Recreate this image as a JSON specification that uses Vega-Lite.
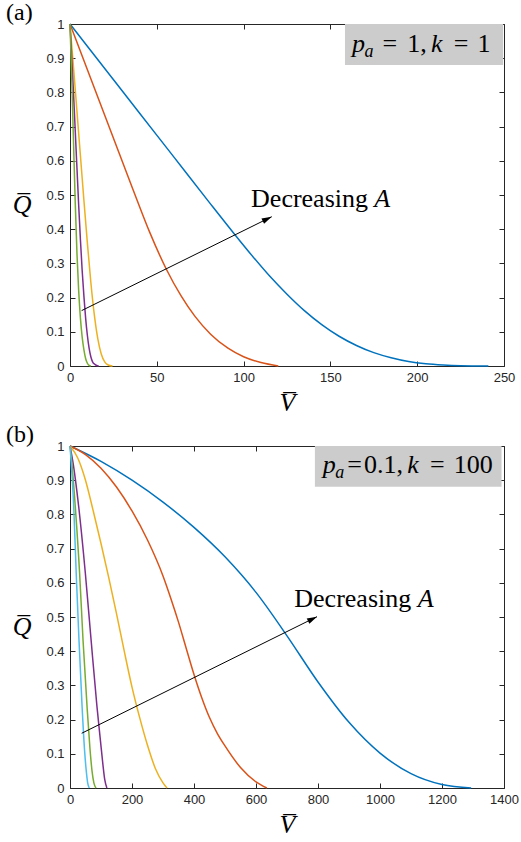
{
  "$schema": "https://vega.github.io/schema/vega-lite/v6.json",
  "padding": {"left": 5, "top": 0, "right": 5, "bottom": 5},
  "background": "white",
  "spacing": 6,
  "config": {
    "view": {"stroke": "#262626", "strokeWidth": 1},
    "axis": {"grid": false, "domain": false, "tickColor": "#262626", "tickSize": -5, "labelColor": "#262626", "labelFont": "Liberation Sans", "labelFontSize": 13, "labelFlush": false, "labelOverlap": false, "labelBound": false, "titleFont": "Liberation Serif", "titleFontStyle": "italic", "titleFontWeight": "normal", "titleFontSize": 26, "titleColor": "black"},
    "title": {"font": "Liberation Serif", "fontSize": 24, "fontWeight": "normal", "anchor": "start", "frame": "group", "dx": -64, "offset": -7, "baseline": "alphabetic", "color": "black"}
  },
  "datasets": {
    "a": [
      {"s":"1","v":0,"q":1},{"s":"1","v":20,"q":0.87},{"s":"1","v":40,"q":0.74},{"s":"1","v":60,"q":0.61},{"s":"1","v":80,"q":0.48},{"s":"1","v":95,"q":0.384},{"s":"1","v":105,"q":0.322},{"s":"1","v":115,"q":0.263},{"s":"1","v":125,"q":0.21},{"s":"1","v":135,"q":0.162},{"s":"1","v":145,"q":0.121},{"s":"1","v":155,"q":0.087},{"s":"1","v":165,"q":0.06},{"s":"1","v":175,"q":0.039},{"s":"1","v":185,"q":0.024},{"s":"1","v":195,"q":0.013},{"s":"1","v":205,"q":0.0065},{"s":"1","v":215,"q":0.003},{"s":"1","v":225,"q":0.001},{"s":"1","v":241,"q":0},
      {"s":"2","v":0,"q":1},{"s":"2","v":12,"q":0.84},{"s":"2","v":24,"q":0.68},{"s":"2","v":36,"q":0.52},{"s":"2","v":46,"q":0.39},{"s":"2","v":55.5,"q":0.283},{"s":"2","v":64,"q":0.205},{"s":"2","v":72,"q":0.145},{"s":"2","v":81,"q":0.093},{"s":"2","v":91,"q":0.052},{"s":"2","v":100,"q":0.027},{"s":"2","v":110,"q":0.01},{"s":"2","v":120,"q":0},
      {"s":"3","v":0,"q":1},{"s":"3","v":2,"q":0.875},{"s":"3","v":4,"q":0.745},{"s":"3","v":6,"q":0.615},{"s":"3","v":8,"q":0.485},{"s":"3","v":10,"q":0.36},{"s":"3","v":12,"q":0.245},{"s":"3","v":14,"q":0.15},{"s":"3","v":16,"q":0.08},{"s":"3","v":18,"q":0.035},{"s":"3","v":20,"q":0.012},{"s":"3","v":22,"q":0.003},{"s":"3","v":24.5,"q":0},
      {"s":"4","v":0,"q":1},{"s":"4","v":1,"q":0.9},{"s":"4","v":2,"q":0.8},{"s":"4","v":3,"q":0.69},{"s":"4","v":4,"q":0.58},{"s":"4","v":5,"q":0.47},{"s":"4","v":6,"q":0.37},{"s":"4","v":7,"q":0.28},{"s":"4","v":8,"q":0.205},{"s":"4","v":9,"q":0.14},{"s":"4","v":10,"q":0.09},{"s":"4","v":11,"q":0.052},{"s":"4","v":12,"q":0.027},{"s":"4","v":13,"q":0.012},{"s":"4","v":14.5,"q":0.004},{"s":"4","v":16.5,"q":0},
      {"s":"5","v":0,"q":1},{"s":"5","v":1,"q":0.84},{"s":"5","v":2,"q":0.66},{"s":"5","v":3,"q":0.48},{"s":"5","v":4,"q":0.33},{"s":"5","v":5,"q":0.22},{"s":"5","v":6,"q":0.14},{"s":"5","v":7,"q":0.085},{"s":"5","v":8,"q":0.048},{"s":"5","v":9,"q":0.022},{"s":"5","v":10,"q":0.008},{"s":"5","v":11,"q":0.002},{"s":"5","v":12,"q":0}
    ],
    "b": [
      {"s":"1","v":0,"q":1},{"s":"1","v":100,"q":0.955},{"s":"1","v":200,"q":0.9},{"s":"1","v":300,"q":0.836},{"s":"1","v":400,"q":0.762},{"s":"1","v":500,"q":0.676},{"s":"1","v":600,"q":0.572},{"s":"1","v":700,"q":0.445},{"s":"1","v":800,"q":0.31},{"s":"1","v":900,"q":0.192},{"s":"1","v":1000,"q":0.102},{"s":"1","v":1100,"q":0.042},{"s":"1","v":1200,"q":0.01},{"s":"1","v":1294,"q":0},
      {"s":"2","v":0,"q":1},{"s":"2","v":50,"q":0.975},{"s":"2","v":100,"q":0.935},{"s":"2","v":150,"q":0.88},{"s":"2","v":200,"q":0.81},{"s":"2","v":250,"q":0.725},{"s":"2","v":300,"q":0.62},{"s":"2","v":325,"q":0.555},{"s":"2","v":350,"q":0.485},{"s":"2","v":375,"q":0.408},{"s":"2","v":400,"q":0.332},{"s":"2","v":425,"q":0.264},{"s":"2","v":450,"q":0.206},{"s":"2","v":475,"q":0.16},{"s":"2","v":500,"q":0.123},{"s":"2","v":550,"q":0.06},{"s":"2","v":600,"q":0.018},{"s":"2","v":635,"q":0},
      {"s":"3","v":0,"q":1},{"s":"3","v":25,"q":0.965},{"s":"3","v":50,"q":0.9},{"s":"3","v":75,"q":0.81},{"s":"3","v":100,"q":0.715},{"s":"3","v":125,"q":0.615},{"s":"3","v":150,"q":0.51},{"s":"3","v":175,"q":0.4},{"s":"3","v":200,"q":0.295},{"s":"3","v":225,"q":0.205},{"s":"3","v":250,"q":0.125},{"s":"3","v":275,"q":0.058},{"s":"3","v":300,"q":0.015},{"s":"3","v":313,"q":0},
      {"s":"4","v":0,"q":1},{"s":"4","v":10,"q":0.95},{"s":"4","v":28,"q":0.823},{"s":"4","v":49.5,"q":0.628},{"s":"4","v":68,"q":0.433},{"s":"4","v":87,"q":0.238},{"s":"4","v":98,"q":0.14},{"s":"4","v":106,"q":0.07},{"s":"4","v":112,"q":0.025},{"s":"4","v":119,"q":0},
      {"s":"5","v":0,"q":1},{"s":"5","v":6,"q":0.95},{"s":"5","v":17,"q":0.823},{"s":"5","v":31,"q":0.628},{"s":"5","v":42,"q":0.433},{"s":"5","v":55,"q":0.238},{"s":"5","v":64,"q":0.12},{"s":"5","v":71,"q":0.05},{"s":"5","v":77,"q":0.015},{"s":"5","v":84,"q":0},
      {"s":"6","v":0,"q":1},{"s":"6","v":4,"q":0.95},{"s":"6","v":12,"q":0.823},{"s":"6","v":20,"q":0.628},{"s":"6","v":29,"q":0.433},{"s":"6","v":39,"q":0.238},{"s":"6","v":47,"q":0.11},{"s":"6","v":53,"q":0.045},{"s":"6","v":57,"q":0.015},{"s":"6","v":62,"q":0}
    ],
    "boxA": [{"x":158.4,"x2":249.5,"y":1,"y2":0.88}],
    "boxB": [{"x":790,"x2":1392,"y":1,"y2":0.881}],
    "arrowA": [{"x":6.7,"y":0.162,"x2":116.2,"y2":0.4365}],
    "arrowB": [{"x":37.7,"y":0.16,"x2":796.8,"y2":0.501}],
    "normA": [{"x":104.3,"y":0.466,"t":"Decreasing"},{"x":180.0,"y":0.919,"t":"="},{"x":194.3,"y":0.919,"t":"1,"},{"x":221.0,"y":0.919,"t":"="},{"x":234.7,"y":0.919,"t":"1"}],
    "italA": [{"x":175.3,"y":0.466,"t":"A"},{"x":162.4,"y":0.919,"t":"p"},{"x":207.9,"y":0.919,"t":"k"}],
    "subA": [{"x":169.7,"y":0.9035,"t":"a"}],
    "normB": [{"x":723.5,"y":0.53,"t":"Decreasing"},{"x":894.2,"y":0.92,"t":"="},{"x":948.4,"y":0.92,"t":"0.1,"},{"x":1161,"y":0.92,"t":"="},{"x":1237.7,"y":0.92,"t":"100"}],
    "italB": [{"x":1121.6,"y":0.53,"t":"A"},{"x":815.2,"y":0.92,"t":"p"},{"x":1087.7,"y":0.92,"t":"k"}],
    "subB": [{"x":855.8,"y":0.906,"t":"a"}]
  },
  "vconcat": [
    {
      "width": 434, "height": 342,
      "title": {"text": "(a)"},
      "resolve": {"axis": {"x": "independent", "y": "independent"}},
      "layer": [
        {"data": {"name": "boxA"}, "mark": {"type": "rect", "color": "#cccccc"},
         "encoding": {"x": {"field": "x", "type": "quantitative", "scale": {"domain": [0, 250], "nice": false}, "axis": null}, "x2": {"field": "x2"},
                      "y": {"field": "y", "type": "quantitative", "scale": {"domain": [0, 1], "nice": false}, "axis": null}, "y2": {"field": "y2"}}},
        {"data": {"name": "a"}, "mark": {"type": "line", "strokeWidth": 1.5, "interpolate": "monotone"},
         "encoding": {
           "x": {"field": "v", "type": "quantitative", "scale": {"domain": [0, 250], "nice": false}, "axis": {"orient": "bottom", "values": [0, 50, 100, 150, 200, 250], "format": "d", "title": "V\u0305", "labelPadding": 10, "titlePadding": 5}},
           "y": {"field": "q", "type": "quantitative", "scale": {"domain": [0, 1], "nice": false}, "axis": {"orient": "left", "values": [0, 0.1, 0.2, 0.3, 0.4, 0.5, 0.6, 0.7, 0.8, 0.9, 1], "format": "~g", "title": "Q\u0305", "titleAngle": 0, "titleAlign": "right", "titleBaseline": "middle", "titleY": 180, "labelPadding": 11, "titlePadding": 15}},
           "color": {"field": "s", "type": "nominal", "scale": {"domain": ["1", "2", "3", "4", "5", "6"], "range": ["#0072BD", "#D95319", "#EDB120", "#7E2F8E", "#77AC30", "#4DBEEE"]}, "legend": null}}},
        {"data": {"name": "arrowA"}, "mark": {"type": "rule", "color": "black", "strokeWidth": 1},
         "encoding": {"x": {"field": "x", "type": "quantitative", "scale": {"domain": [0, 250], "nice": false}, "axis": {"orient": "top", "values": [0, 50, 100, 150, 200, 250], "labels": false, "title": null}}, "x2": {"field": "x2"},
                      "y": {"field": "y", "type": "quantitative", "scale": {"domain": [0, 1], "nice": false}, "axis": {"orient": "right", "values": [0, 0.1, 0.2, 0.3, 0.4, 0.5, 0.6, 0.7, 0.8, 0.9, 1], "labels": false, "title": null}}, "y2": {"field": "y2"}}},
        {"data": {"name": "arrowA"}, "mark": {"type": "point", "filled": true, "color": "black", "opacity": 1, "shape": "M0,0 L-2,-0.6 L-2,0.6 Z", "size": 100, "angle": 333.7},
         "encoding": {"x": {"field": "x2", "type": "quantitative", "scale": {"domain": [0, 250], "nice": false}, "axis": null},
                      "y": {"field": "y2", "type": "quantitative", "scale": {"domain": [0, 1], "nice": false}, "axis": null}}},
        {"data": {"name": "normA"}, "mark": {"type": "text", "font": "Liberation Serif", "fontSize": 26, "align": "left", "baseline": "alphabetic", "color": "black"},
         "encoding": {"x": {"field": "x", "type": "quantitative", "scale": {"domain": [0, 250], "nice": false}, "axis": null},
                      "y": {"field": "y", "type": "quantitative", "scale": {"domain": [0, 1], "nice": false}, "axis": null}, "text": {"field": "t"}}},
        {"data": {"name": "italA"}, "mark": {"type": "text", "font": "Liberation Serif", "fontStyle": "italic", "fontSize": 26, "align": "left", "baseline": "alphabetic", "color": "black"},
         "encoding": {"x": {"field": "x", "type": "quantitative", "scale": {"domain": [0, 250], "nice": false}, "axis": null},
                      "y": {"field": "y", "type": "quantitative", "scale": {"domain": [0, 1], "nice": false}, "axis": null}, "text": {"field": "t"}}},
        {"data": {"name": "subA"}, "mark": {"type": "text", "font": "Liberation Serif", "fontStyle": "italic", "fontSize": 18, "align": "left", "baseline": "alphabetic", "color": "black"},
         "encoding": {"x": {"field": "x", "type": "quantitative", "scale": {"domain": [0, 250], "nice": false}, "axis": null},
                      "y": {"field": "y", "type": "quantitative", "scale": {"domain": [0, 1], "nice": false}, "axis": null}, "text": {"field": "t"}}}
      ]
    },
    {
      "width": 434, "height": 342,
      "title": {"text": "(b)"},
      "resolve": {"axis": {"x": "independent", "y": "independent"}},
      "layer": [
        {"data": {"name": "boxB"}, "mark": {"type": "rect", "color": "#cccccc"},
         "encoding": {"x": {"field": "x", "type": "quantitative", "scale": {"domain": [0, 1400], "nice": false}, "axis": null}, "x2": {"field": "x2"},
                      "y": {"field": "y", "type": "quantitative", "scale": {"domain": [0, 1], "nice": false}, "axis": null}, "y2": {"field": "y2"}}},
        {"data": {"name": "b"}, "mark": {"type": "line", "strokeWidth": 1.5, "interpolate": "monotone"},
         "encoding": {
           "x": {"field": "v", "type": "quantitative", "scale": {"domain": [0, 1400], "nice": false}, "axis": {"orient": "bottom", "values": [0, 200, 400, 600, 800, 1000, 1200, 1400], "format": "d", "title": "V\u0305", "labelPadding": 10, "titlePadding": 5}},
           "y": {"field": "q", "type": "quantitative", "scale": {"domain": [0, 1], "nice": false}, "axis": {"orient": "left", "values": [0, 0.1, 0.2, 0.3, 0.4, 0.5, 0.6, 0.7, 0.8, 0.9, 1], "format": "~g", "title": "Q\u0305", "titleAngle": 0, "titleAlign": "right", "titleBaseline": "middle", "titleY": 180, "labelPadding": 11, "titlePadding": 15}},
           "color": {"field": "s", "type": "nominal", "scale": {"domain": ["1", "2", "3", "4", "5", "6"], "range": ["#0072BD", "#D95319", "#EDB120", "#7E2F8E", "#77AC30", "#4DBEEE"]}, "legend": null}}},
        {"data": {"name": "arrowB"}, "mark": {"type": "rule", "color": "black", "strokeWidth": 1},
         "encoding": {"x": {"field": "x", "type": "quantitative", "scale": {"domain": [0, 1400], "nice": false}, "axis": {"orient": "top", "values": [0, 200, 400, 600, 800, 1000, 1200, 1400], "labels": false, "title": null}}, "x2": {"field": "x2"},
                      "y": {"field": "y", "type": "quantitative", "scale": {"domain": [0, 1], "nice": false}, "axis": {"orient": "right", "values": [0, 0.1, 0.2, 0.3, 0.4, 0.5, 0.6, 0.7, 0.8, 0.9, 1], "labels": false, "title": null}}, "y2": {"field": "y2"}}},
        {"data": {"name": "arrowB"}, "mark": {"type": "point", "filled": true, "color": "black", "opacity": 1, "shape": "M0,0 L-2,-0.6 L-2,0.6 Z", "size": 100, "angle": 333.6},
         "encoding": {"x": {"field": "x2", "type": "quantitative", "scale": {"domain": [0, 1400], "nice": false}, "axis": null},
                      "y": {"field": "y2", "type": "quantitative", "scale": {"domain": [0, 1], "nice": false}, "axis": null}}},
        {"data": {"name": "normB"}, "mark": {"type": "text", "font": "Liberation Serif", "fontSize": 26, "align": "left", "baseline": "alphabetic", "color": "black"},
         "encoding": {"x": {"field": "x", "type": "quantitative", "scale": {"domain": [0, 1400], "nice": false}, "axis": null},
                      "y": {"field": "y", "type": "quantitative", "scale": {"domain": [0, 1], "nice": false}, "axis": null}, "text": {"field": "t"}}},
        {"data": {"name": "italB"}, "mark": {"type": "text", "font": "Liberation Serif", "fontStyle": "italic", "fontSize": 26, "align": "left", "baseline": "alphabetic", "color": "black"},
         "encoding": {"x": {"field": "x", "type": "quantitative", "scale": {"domain": [0, 1400], "nice": false}, "axis": null},
                      "y": {"field": "y", "type": "quantitative", "scale": {"domain": [0, 1], "nice": false}, "axis": null}, "text": {"field": "t"}}},
        {"data": {"name": "subB"}, "mark": {"type": "text", "font": "Liberation Serif", "fontStyle": "italic", "fontSize": 18, "align": "left", "baseline": "alphabetic", "color": "black"},
         "encoding": {"x": {"field": "x", "type": "quantitative", "scale": {"domain": [0, 1400], "nice": false}, "axis": null},
                      "y": {"field": "y", "type": "quantitative", "scale": {"domain": [0, 1], "nice": false}, "axis": null}, "text": {"field": "t"}}}
      ]
    }
  ]
}
